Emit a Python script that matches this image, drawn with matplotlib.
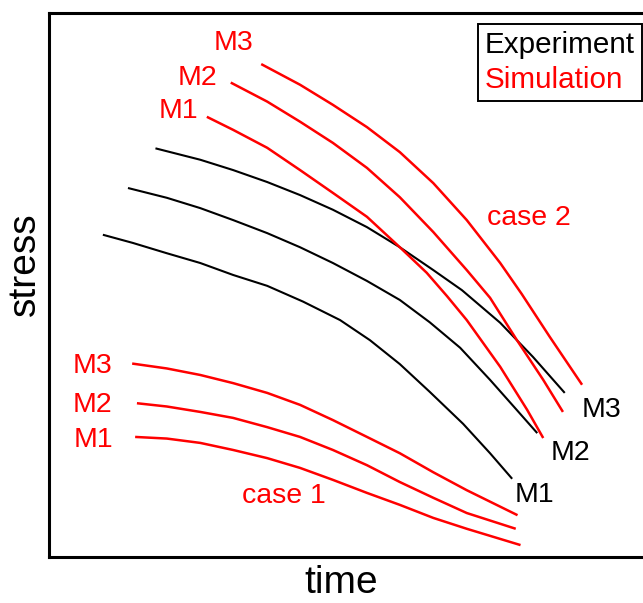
import matplotlib
matplotlib.use("Agg")
import matplotlib.pyplot as plt
from matplotlib.lines import Line2D

plt.rcParams['font.family'] = ['Liberation Sans', 'DejaVu Sans']

# experiment curves (black), arbitrary time / stress units
exp_m1_t = [9.1, 14.1, 19.8, 25.4, 30.9, 36.6, 42.6, 48.8, 53.8, 58.8, 63.8, 69.4, 73.9, 77.6]
exp_m1_s = [59.2, 57.7, 55.8, 54.0, 51.8, 49.8, 46.9, 43.5, 39.8, 35.4, 30.3, 24.4, 19.0, 14.3]
exp_m2_t = [13.3, 19.8, 25.4, 30.9, 36.6, 42.1, 47.6, 53.3, 58.8, 63.8, 68.9, 73.9, 78.1, 81.8]
exp_m2_s = [67.8, 66.0, 64.1, 61.9, 59.5, 56.9, 54.0, 50.7, 47.2, 43.1, 38.4, 32.5, 27.3, 22.7]
exp_m3_t = [17.9, 25.4, 30.9, 36.6, 42.1, 47.6, 53.3, 58.8, 64.4, 69.2, 75.6, 81.1, 86.4]
exp_m3_s = [75.1, 73.0, 71.1, 68.9, 66.5, 63.8, 60.6, 56.9, 52.7, 49.0, 43.0, 36.7, 30.1]

# simulation, case 2 (red, upper)
c2_m1_t = [26.5, 30.9, 36.6, 42.1, 47.6, 53.3, 58.8, 63.3, 66.7, 70.0, 75.6, 80.1, 82.8]
c2_m1_s = [80.9, 78.5, 75.2, 71.1, 66.9, 62.5, 56.9, 52.2, 47.9, 43.5, 34.9, 27.0, 21.8]
c2_m2_t = [30.5, 36.6, 42.1, 47.6, 53.3, 58.8, 64.4, 70.0, 73.9, 78.4, 82.8, 86.1]
c2_m2_s = [87.2, 83.7, 80.0, 76.1, 71.5, 66.1, 59.7, 52.7, 47.6, 39.8, 32.5, 26.6]
c2_m3_t = [35.6, 42.1, 47.6, 53.3, 58.8, 64.4, 70.0, 75.6, 79.2, 83.9, 89.3]
c2_m3_s = [90.6, 86.8, 83.1, 79.0, 74.4, 68.7, 61.9, 54.0, 48.3, 40.4, 31.6]

# simulation, case 1 (red, lower)
c1_m1_t = [14.5, 19.8, 25.4, 30.9, 36.6, 42.1, 47.6, 53.3, 58.8, 64.4, 70.0, 79.0]
c1_m1_s = [22.0, 21.7, 20.9, 19.6, 18.1, 16.3, 14.1, 11.7, 9.5, 7.1, 5.1, 2.1]
c1_m2_t = [14.8, 19.8, 25.4, 30.9, 36.6, 42.1, 47.6, 53.3, 58.8, 64.4, 70.0, 78.2]
c1_m2_s = [28.2, 27.6, 26.6, 25.5, 23.8, 22.0, 19.6, 16.8, 13.7, 10.8, 8.0, 5.1]
c1_m3_t = [14.0, 19.8, 25.4, 30.9, 36.6, 42.1, 47.6, 53.3, 58.8, 64.4, 70.0, 78.5]
c1_m3_s = [35.5, 34.6, 33.4, 31.9, 30.1, 27.9, 25.1, 22.0, 19.0, 15.5, 12.2, 7.6]

RED = '#ff0000'

fig = plt.figure(figsize=(6.43, 6.03), dpi=100)
ax = fig.add_axes([48.5 / 643, 46.5 / 603, 597.5 / 643, 543.5 / 603])

for t, s in [(exp_m1_t, exp_m1_s), (exp_m2_t, exp_m2_s), (exp_m3_t, exp_m3_s)]:
    ax.plot(t, s, color='black', lw=1.5, solid_capstyle='butt', solid_joinstyle='round')

for t, s in [(c2_m1_t, c2_m1_s), (c2_m2_t, c2_m2_s), (c2_m3_t, c2_m3_s),
             (c1_m1_t, c1_m1_s), (c1_m2_t, c1_m2_s), (c1_m3_t, c1_m3_s)]:
    ax.plot(t, s, color=RED, lw=1.8, solid_capstyle='butt', solid_joinstyle='round')

# curve labels
fs = 20.5
lab = dict(fontsize=fs, ha='center', va='baseline')
ax.text(30.9, 93.2, 'M3', color=RED, **lab)
ax.text(25.0, 86.8, 'M2', color=RED, **lab)
ax.text(21.7, 80.7, 'M1', color=RED, **lab)
ax.text(80.4, 61.0, 'case 2', color=RED, **lab)
ax.text(92.5, 25.7, 'M3', color='black', **lab)
ax.text(87.4, 17.8, 'M2', color='black', **lab)
ax.text(81.4, 10.0, 'M1', color='black', **lab)
ax.text(7.4, 33.8, 'M3', color=RED, **lab)
ax.text(7.4, 26.6, 'M2', color=RED, **lab)
ax.text(7.6, 20.1, 'M1', color=RED, **lab)
ax.text(39.4, 9.8, 'case 1', color=RED, **lab)

ax.set_xlim(0, 100)
ax.set_ylim(0, 100)
ax.set_xticks([])
ax.set_yticks([])
for side in ['left', 'bottom', 'top']:
    ax.spines[side].set_linewidth(2.2)
ax.spines['right'].set_visible(False)

# legend without line handles
handles = [Line2D([], [], linestyle='none'), Line2D([], [], linestyle='none')]
leg = ax.legend(handles, ['Experiment', 'Simulation'], labelcolor=['black', RED],
                fontsize=21.3, loc='upper right',
                bbox_to_anchor=(642 / 643, 1 - 24 / 603),
                bbox_transform=fig.transFigure,
                handlelength=0, handletextpad=0, borderpad=0.24,
                labelspacing=0.24, borderaxespad=0, fancybox=False,
                framealpha=1)
leg.get_frame().set_edgecolor('black')
leg.get_frame().set_linewidth(1.4)

fig.text(35 / 643, 1 - 264 / 603, 'stress', fontsize=28, rotation=90,
         rotation_mode='anchor', ha='center', va='baseline')
fig.text(341 / 643, 2 / 603, 'time', fontsize=28, ha='center', va='bottom')

fig.savefig('out.png', dpi=100)
